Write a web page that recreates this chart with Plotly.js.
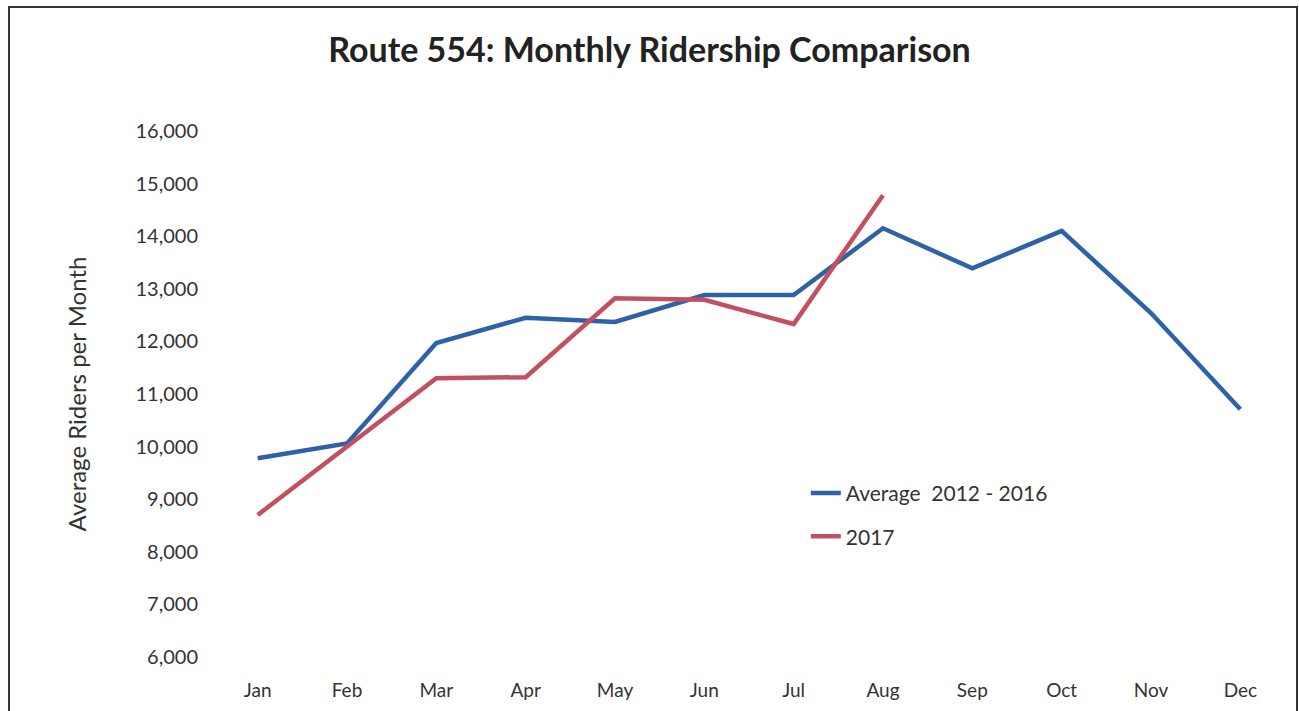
<!DOCTYPE html>
<html>
<head>
<meta charset="utf-8">
<script src="https://cdn.plot.ly/plotly-3.0.1.min.js"></script>
<style>html,body{margin:0;padding:0;background:#fff;}#chart{width:1299px;height:711px;}</style>
</head>
<body>
<div id="chart"></div>
<script>
var months = ["Jan","Feb","Mar","Apr","May","Jun","Jul","Aug","Sep","Oct","Nov","Dec"];
var avgLabel = "Average  2012 - 2016";
var avgValues = [9780, 10060, 11970, 12450, 12370, 12880, 12880, 14150, 13390, 14100, 12540, 10710];
var label2017 = "2017";
var values2017 = [8700, 10010, 11300, 11320, 12820, 12790, 12330, 14780];
var yTicks = [6000, 7000, 8000, 9000, 10000, 11000, 12000, 13000, 14000, 15000, 16000];

var font = "Lato, 'Open Sans', sans-serif";
var traces = [
  {x: months, y: avgValues, name: avgLabel, type: "scatter", mode: "lines",
   line: {color: "#2e62a6", width: 4.5}, legendgroup: "a"},
  {x: months.slice(0, values2017.length), y: values2017, name: label2017, type: "scatter", mode: "lines",
   line: {color: "#c3505f", width: 4.5}, legendgroup: "b"}
];
var layout = {
  width: 1299, height: 711,
  margin: {l: 213, r: 14, t: 131, b: 54, pad: 0},
  paper_bgcolor: "#fff", plot_bgcolor: "#fff",
  font: {family: font, color: "#333", size: 18},
  title: {text: "<b>Route 554: Monthly Ridership Comparison</b>", x: 0.5, xanchor: "center",
          y: 0.93, yanchor: "middle", font: {family: font, size: 34, color: "#222"}},
  xaxis: {type: "category", categoryorder: "array", categoryarray: months, range: [-0.5, 11.5],
          showgrid: false, zeroline: false, showline: false, ticks: "", ticklen: 0,
          ticklabelstandoff: 20,
          tickfont: {family: font, size: 19, color: "#333"}, fixedrange: true},
  yaxis: {range: [6000, 16000], tickvals: yTicks, tickformat: ",d", showgrid: false,
          zeroline: false, showline: false, ticks: "", ticklabelstandoff: 14,
          tickfont: {family: font, size: 20, color: "#333"},
          title: {text: "Average Riders per Month", font: {family: font, size: 24, color: "#333"}, standoff: 42},
          fixedrange: true},
  showlegend: true,
  legend: {x: 0.553, xanchor: "left", y: 0.35, yanchor: "top", bgcolor: "rgba(0,0,0,0)",
           font: {family: font, size: 21, color: "#333"}, tracegroupgap: 13, itemwidth: 30},
  shapes: [
    {type: "rect", xref: "paper", yref: "paper", x0: -0.1903, x1: 1.0112, y0: -0.2, y1: 1.2357,
     line: {color: "#333", width: 2}, fillcolor: "rgba(0,0,0,0)", layer: "below"}
  ]
};
Plotly.newPlot("chart", traces, layout, {displayModeBar: false, staticPlot: true});
</script>
</body>
</html>
